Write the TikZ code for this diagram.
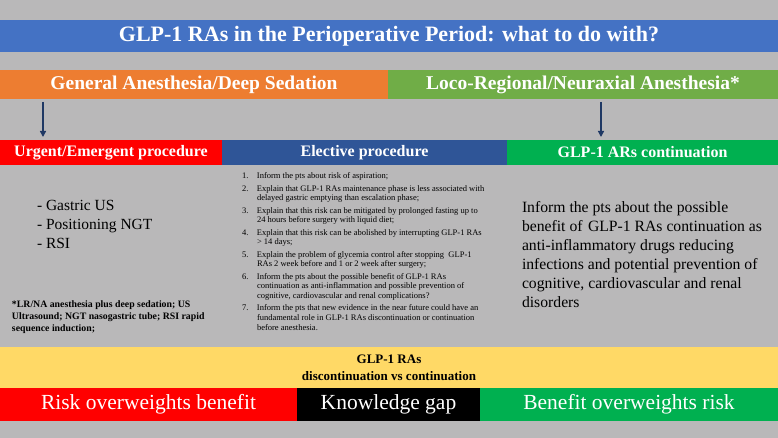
\documentclass[tikz,border=0pt]{standalone}
\usepackage{fontspec}
\setmainfont{Liberation Serif}
\usetikzlibrary{arrows.meta}

\definecolor{bgGray}{RGB}{185,184,185}
\definecolor{titleBlue}{RGB}{68,114,196}
\definecolor{gaOrange}{RGB}{237,125,49}
\definecolor{lrGreen}{RGB}{112,173,71}
\definecolor{arrowNavy}{RGB}{31,56,100}
\definecolor{urgRed}{RGB}{255,0,0}
\definecolor{elecBlue}{RGB}{47,85,151}
\definecolor{contGreen}{RGB}{0,176,80}
\definecolor{bandYellow}{RGB}{255,217,102}

\tikzset{
  bar/.style={anchor=north west, inner sep=0pt, outer sep=0pt, text=white, align=center},
  txt/.style={anchor=north west, inner sep=0pt, outer sep=0pt, align=left, text=black},
  downarrow/.style={-{Triangle[length=6pt, width=6pt]}, arrowNavy, line width=1.4pt, shorten >=3pt},
}

\begin{document}
\begin{tikzpicture}[x=1pt, y=-1pt]

		\fill[bgGray] (0,0) rectangle (778,438);

		% ================= title and the two anesthesia bars =================
		\node[bar, fill=titleBlue, minimum width=778pt, minimum height=32pt,
			font=\fontsize{22}{25}\selectfont\bfseries] (title) at (0,20)
		{GLP-1 RAs in the Perioperative Period: what to do with?};
		\node[bar, fill=gaOrange, minimum width=388pt, minimum height=29pt,
			font=\fontsize{19.5}{22}\selectfont\bfseries] (ga) at (0,70)
		{General Anesthesia/Deep Sedation};
		\node[bar, fill=lrGreen, minimum width=390pt, minimum height=29pt,
			font=\fontsize{19.5}{22}\selectfont\bfseries] (lr) at (388,70)
		{Loco-Regional/Neuraxial Anesthesia*};

		% ================= procedure headers =================
		\node[bar, fill=urgRed, minimum width=222pt, minimum height=25pt,
			font=\fontsize{16}{18}\selectfont\bfseries] (urgent) at (0,140)
		{Urgent/Emergent procedure};
		\node[bar, fill=elecBlue, minimum width=285pt, minimum height=25pt,
			font=\fontsize{16}{18}\selectfont\bfseries] (elective) at (222,140)
		{Elective procedure};
		\node[bar, fill=contGreen, minimum width=271pt, minimum height=25pt,
			font=\fontsize{16}{18}\selectfont\bfseries] (cont) at (507,140)
		{GLP-1 ARs continuation};

		\coordinate (gaTail) at (43,102);
		\coordinate (lrTail) at (601,102);
		\draw[downarrow] (gaTail) -- (gaTail |- urgent.north);
		\draw[downarrow] (lrTail) -- (lrTail |- cont.north);

		% ================= urgent column =================
		\node[txt, font=\fontsize{15.5}{19}\selectfont] (urgentList) at (37,200)
		{- Gastric US\\- Positioning NGT\\- RSI};
		\node[txt, font=\fontsize{9.8}{12}\selectfont\bfseries] (abbrev) at (12,301)
		{*LR/NA anesthesia plus deep sedation; US\\
			Ultrasound; NGT nasogastric tube; RSI rapid\\sequence induction;};

		% ================= elective column =================
		\node[txt, font=\fontsize{8.5}{9.7}\selectfont] (electiveList) at (242,172)
		{\begin{tabular}{@{}p{15pt}@{}l@{}}
				1. & Inform the pts about risk of aspiration;\\[2.6pt]
				2. & Explain that GLP-1 RAs maintenance phase is less associated with\\
				& delayed gastric emptying than escalation phase;\\[2.6pt]
				3. & Explain that this risk can be mitigated by prolonged fasting up to\\
				& 24 hours before surgery with liquid diet;\\[2.6pt]
				4. & Explain that this risk can be abolished by interrupting GLP-1 RAs\\
				& > 14 days;\\[2.6pt]
				5. & Explain the problem of glycemia control after stopping\ \ GLP-1\\
				& RAs 2 week before and 1 or 2 week after surgery;\\[2.6pt]
				6. & Inform the pts about the possible benefit of GLP-1 RAs\\
				& continuation as anti-inflammation and possible prevention of\\
				& cognitive, cardiovascular and renal complications?\\[2.6pt]
				7. & Inform the pts that new evidence in the near future could have an\\
				& fundamental role in GLP-1 RAs discontinuation or continuation\\
				& before anesthesia.
			\end{tabular}};

		% ================= continuation column =================
		\node[txt, font=\fontsize{15.7}{19}\selectfont] (contText) at (522,201)
		{Inform the pts about the possible\\
			benefit of\hspace{1.5pt} GLP-1 RAs continuation as\\
			anti-inflammatory drugs reducing\\
			infections and potential prevention of\\
			cognitive, cardiovascular and renal\\
			disorders};

		% ================= decision band =================
		\node[bar, fill=bandYellow, text=black, minimum width=778pt, minimum height=41pt,
			font=\fontsize{13}{17}\selectfont\bfseries] (band) at (0,347)
		{GLP-1 RAs\\discontinuation vs continuation};
		\node[bar, fill=urgRed, minimum width=297pt, minimum height=33pt,
			font=\fontsize{21.5}{24}\selectfont] (risk) at (0,388)
		{Risk overweights benefit};
		\node[bar, fill=black, minimum width=183pt, minimum height=33pt,
			font=\fontsize{21.5}{24}\selectfont] (gap) at (297,388)
		{Knowledge gap};
		\node[bar, fill=contGreen, minimum width=298pt, minimum height=33pt,
			font=\fontsize{21.5}{24}\selectfont] (benefit) at (480,388)
		{Benefit overweights risk};

	\end{tikzpicture}
\end{document}
